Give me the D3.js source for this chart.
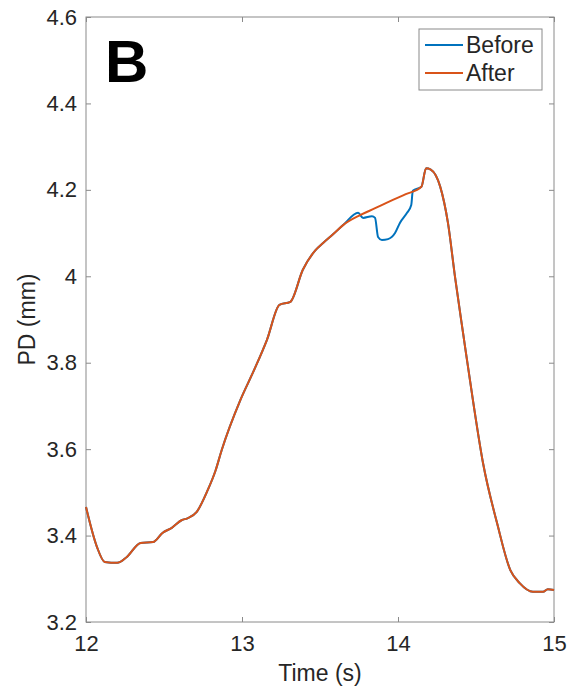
<!DOCTYPE html>
<meta charset="utf-8">
<style>
html, body { margin: 0; background: #fff; }
text { font-family: "Liberation Sans", Arial, sans-serif; fill: #262626; }
.axis-line { fill: none; stroke: #8a8a8a; stroke-width: 1; }
.tick line { stroke: #8a8a8a; }
.curve { fill: none; stroke-width: 2; stroke-linejoin: round; }
</style>
<div id="chart"></div>
<script src="https://d3js.org/d3.v7.min.js"></script>
<script>

// pupil diameter trace
var times = [12.00, 12.07, 12.12, 12.20, 12.26, 12.35, 12.43, 12.49, 12.55, 12.615,
             12.65, 12.71, 12.78, 12.83, 12.87, 12.99, 13.08, 13.16, 13.24, 13.31,
             13.39, 13.47, 13.52, 13.58, 13.65, 13.76, 13.85, 13.95, 14.05, 14.15,
             14.18, 14.21, 14.27, 14.32, 14.365, 14.417, 14.48, 14.545, 14.635, 14.72,
             14.78, 14.865, 14.93, 14.96, 15.00]
var afterPD = [3.466, 3.374, 3.339, 3.337, 3.350, 3.383, 3.385, 3.406, 3.418, 3.436,
               3.440, 3.455, 3.505, 3.550, 3.598, 3.714, 3.785, 3.853, 3.934, 3.941,
               4.015, 4.060, 4.077, 4.096, 4.119, 4.142, 4.157, 4.174, 4.190, 4.207,
               4.250, 4.247, 4.208, 4.124, 4.000, 3.869, 3.714, 3.568, 3.429, 3.320,
               3.290, 3.270, 3.270, 3.276, 3.274]

// the blink segment before correction
var dipTimes = [13.744, 13.776, 13.833, 13.853, 13.872, 13.897, 13.936, 13.981, 14.013, 14.058, 14.085, 14.095]
var dipPD    = [4.147, 4.135, 4.139, 4.135, 4.091, 4.084, 4.086, 4.100, 4.124, 4.147, 4.165, 4.198]

var xTicks = [12, 13, 14, 15]
var yTicks = [3.2, 3.4, 3.6, 3.8, 4, 4.2, 4.4, 4.6]

var after = times.map(function(t, i) { return [t, afterPD[i]] })
var dip = dipTimes.map(function(t, i) { return [t, dipPD[i]] })
var before = after.filter(function(d) { return d[0] < 13.7 })
  .concat(dip)
  .concat(after.filter(function(d) { return d[0] > 14.1 }))

var width = 575, height = 694
var margin = {top: 17, right: 21, bottom: 72, left: 86}

var svg = d3.select("#chart").append("svg")
    .attr("width", width)
    .attr("height", height)

var x = d3.scaleLinear().domain([12, 15]).range([margin.left, width - margin.right])
var y = d3.scaleLinear().domain([3.2, 4.6]).range([height - margin.bottom, margin.top])

var tickLen = 5

// axes, MATLAB style: ticks inside, mirrored on the box
svg.append("g")
    .attr("transform", "translate(0," + y(3.2) + ")")
    .call(d3.axisBottom(x).tickValues(xTicks).tickSize(-tickLen).tickPadding(9)
      .tickFormat(d3.format("d")))
    .call(function(g) { g.select(".domain").remove() })
    .selectAll("text").style("font-size", "22px").attr("dy", "0.9em")

svg.append("g")
    .attr("transform", "translate(0," + y(4.6) + ")")
    .call(d3.axisTop(x).tickValues(xTicks).tickSize(-tickLen).tickFormat(""))
    .call(function(g) { g.select(".domain").remove() })

svg.append("g")
    .attr("transform", "translate(" + x(12) + ",0)")
    .call(d3.axisLeft(y).tickValues(yTicks).tickSize(-tickLen).tickPadding(9)
      .tickFormat(d3.format("~g")))
    .call(function(g) { g.select(".domain").remove() })
    .selectAll("text").style("font-size", "22px")

svg.append("g")
    .attr("transform", "translate(" + x(15) + ",0)")
    .call(d3.axisRight(y).tickValues(yTicks).tickSize(-tickLen).tickFormat(""))
    .call(function(g) { g.select(".domain").remove() })

svg.append("rect")
    .attr("class", "axis-line")
    .attr("x", x(12)).attr("y", y(4.6))
    .attr("width", x(15) - x(12))
    .attr("height", y(3.2) - y(4.6))

var line = d3.line()
    .x(function(d) { return x(d[0]) })
    .y(function(d) { return y(d[1]) })
    .curve(d3.curveMonotoneX)

svg.append("path").datum(before)
    .attr("class", "curve")
    .attr("stroke", "#0072BD")
    .attr("d", line)

svg.append("path").datum(after)
    .attr("class", "curve")
    .attr("stroke", "#D95319")
    .attr("d", line)

// labels
svg.append("text")
    .attr("x", (x(12) + x(15)) / 2)
    .attr("y", 681)
    .attr("text-anchor", "middle")
    .style("font-size", "23px")
    .text("Time (s)")

svg.append("text")
    .attr("transform", "translate(35," + y(3.9) + ") rotate(-90)")
    .attr("text-anchor", "middle")
    .style("font-size", "23px")
    .text("PD (mm)")

svg.append("text")
    .attr("x", 105)
    .attr("y", 82)
    .style("font-size", "60px")
    .style("font-weight", "bold")
    .style("fill", "#000")
    .text("B")

// legend
var legend = svg.append("g")
legend.append("rect")
    .attr("x", 419).attr("y", 29)
    .attr("width", 123).attr("height", 61)
    .attr("fill", "#fff")
    .attr("stroke", "#8a8a8a")

var entries = [["Before", "#0072BD"], ["After", "#D95319"]]
entries.forEach(function(e, i) {
  var ly = 45 + i * 28
  legend.append("line")
      .attr("x1", 425).attr("x2", 463)
      .attr("y1", ly).attr("y2", ly)
      .attr("stroke", e[1]).attr("stroke-width", 2)
  legend.append("text")
      .attr("x", 466).attr("y", ly)
      .attr("dy", "0.36em")
      .style("font-size", "23px")
      .text(e[0])
})

</script>
